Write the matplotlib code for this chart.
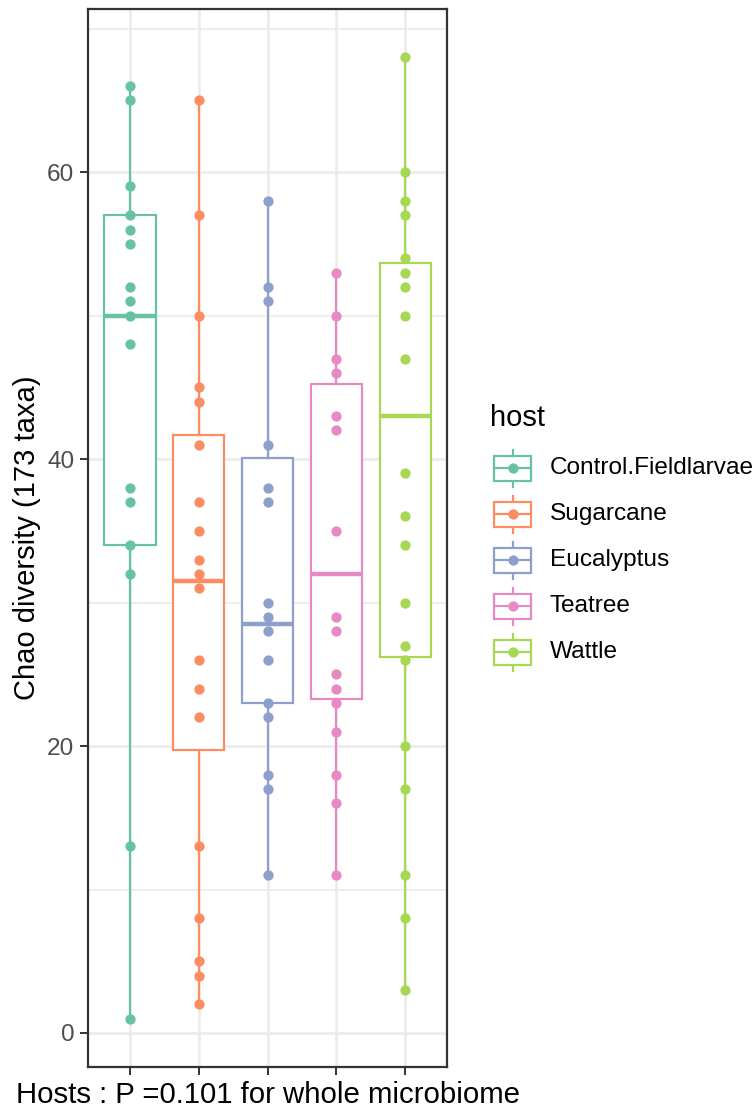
import matplotlib
matplotlib.use("Agg")
import matplotlib.pyplot as plt
from matplotlib.patches import Rectangle
import numpy as np

plt.rcParams['font.family'] = ['Liberation Sans', 'DejaVu Sans']

# ---------------- data ----------------
hosts = ["Control.Fieldlarvae", "Sugarcane", "Eucalyptus", "Teatree", "Wattle"]
colors = ["#66C2A5", "#FC8D62", "#8DA0CB", "#E78AC3", "#A6D854"]

control = [66, 65, 59, 57, 56, 55, 52, 51, 50, 48, 38, 37, 34, 32, 13, 1]
sugarcane = [65, 57, 50, 45, 44, 41, 37, 35, 33, 32, 31, 26, 24, 22, 13, 8, 5, 4, 2]
eucalyptus = [58, 52, 51, 41, 38, 37, 30, 29, 28, 26, 23, 22, 18, 17, 11]
teatree = [53, 50, 47, 46, 43, 42, 35, 29, 28, 25, 24, 23, 21, 18, 16, 11]
wattle = [68, 60, 58, 57, 54, 53, 52, 50, 47, 39, 36, 34, 30, 27, 26, 20, 17, 11, 8, 3]
values = [control, sugarcane, eucalyptus, teatree, wattle]

# box statistics
q1 = [34, 19.7, 23, 23.3, 26.2]
med = [50, 31.5, 28.5, 32, 43]
q3 = [57, 41.7, 40.1, 45.2, 53.7]

yticks = [0, 20, 40, 60]
yminor = [10, 30, 50, 70]

W, H, DPI = 754, 1109, 100
fig = plt.figure(figsize=(W / DPI, H / DPI), dpi=DPI)
fig.patch.set_facecolor("white")

L, R, T, B = 88.3, 446.7, 9.3, 1066.7
ax = fig.add_axes([L / W, 1 - B / H, (R - L) / W, (B - T) / H])
ax.set_facecolor("white")

ymin = min(min(v) for v in values)
ymax = max(max(v) for v in values)
pad = (ymax - ymin) * 0.05
ax.set_xlim(0.4, len(hosts) + 0.6)
ax.set_ylim(ymin - pad, ymax + pad)

# grid
for y in yminor:
    ax.axhline(y, color="#EBEBEB", lw=1.2, zorder=0)
for y in yticks:
    ax.axhline(y, color="#EBEBEB", lw=1.8, zorder=0)
for i in range(len(hosts)):
    ax.axvline(i + 1, color="#EBEBEB", lw=1.8, zorder=0)

# boxes
stats = []
for i, v in enumerate(values):
    stats.append(dict(med=med[i], q1=q1[i], q3=q3[i],
                      whislo=min(v), whishi=max(v), fliers=[]))
bp = ax.bxp(stats, positions=np.arange(1, len(hosts) + 1), widths=0.75,
            showcaps=False, showfliers=False, patch_artist=True,
            manage_ticks=False, zorder=2)
for i, c in enumerate(colors):
    bp['boxes'][i].set(facecolor="white", edgecolor=c, linewidth=1.6)
    bp['medians'][i].set(color=c, linewidth=3.2, solid_capstyle='butt')
    for w in bp['whiskers'][2 * i:2 * i + 2]:
        w.set(color=c, linewidth=1.6)

# points
for i, (v, c) in enumerate(zip(values, colors)):
    ax.plot(np.full(len(v), i + 1), v, 'o', color=c, ms=7.4, mec='none', zorder=3)

# axes styling
for s in ax.spines.values():
    s.set_color("#333333")
    s.set_linewidth(1.6)
ax.set_yticks(yticks)
ax.set_yticklabels([str(t) for t in yticks])
ax.set_xticks(np.arange(1, len(hosts) + 1))
ax.set_xticklabels([])
ax.tick_params(axis='both', colors="#333333", width=1.4, length=6,
               labelcolor="#4D4D4D", labelsize=17.6, pad=4)

fig.text(27.5 / W, 1 - (T + B) / 2 / H, "Chao diversity (173 taxa)", rotation=90,
         ha='center', va='center', fontsize=21, color="black")
fig.text((L + R) / 2 / W, 1 - 1103 / H, "Hosts : P =0.101 for whole microbiome",
         ha='center', va='baseline', fontsize=21.2, color="black")

# legend (drawn in pixel coordinates)
lg = fig.add_axes([0, 0, 1, 1])
lg.set_xlim(0, W)
lg.set_ylim(H, 0)
lg.axis('off')
lg.patch.set_alpha(0)
lg.text(490, 418, "host", fontsize=21, va='center', ha='left')
kx0, kx1 = 494, 531
kxc = (kx0 + kx1) / 2
for i, (h, c) in enumerate(zip(hosts, colors)):
    yc = 468 + 46 * i
    lg.plot([kxc, kxc], [yc - 18.5, yc + 18.5], color=c, lw=1.6)
    lg.add_patch(Rectangle((kx0, yc - 12.5), kx1 - kx0, 25, facecolor="white",
                           edgecolor=c, lw=1.6, zorder=2))
    lg.plot([kx0, kx1], [yc, yc], color=c, lw=1.6, zorder=3)
    lg.plot([kxc], [yc], 'o', color=c, ms=7.4, mec='none', zorder=4)
    lg.text(550, yc, h, fontsize=17.6, va='center', ha='left', clip_on=False)

fig.savefig("out.png", dpi=DPI)
